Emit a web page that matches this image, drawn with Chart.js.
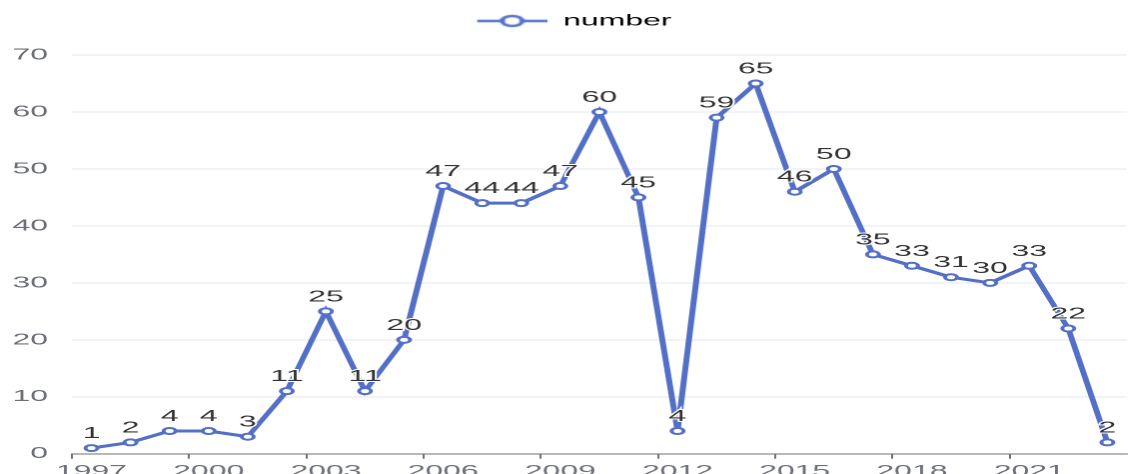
<!DOCTYPE html>
<html>
<head>
<meta charset="utf-8">
<script src="https://cdn.jsdelivr.net/npm/chart.js@4"></script>
<style>
  html, body { margin: 0; padding: 0; overflow: hidden; background: #fff; }
  /* the reference is stretched about 2x sideways, so draw narrow and scale */
  #wrap { width: 570px; height: 484px; transform: scaleX(1.998); transform-origin: 0 0; }
</style>
</head>
<body>
<div id="wrap"><canvas id="myChart"></canvas></div>
<script>
var years = ['1997','1998','1999','2000','2001','2002','2003','2004','2005','2006',
             '2007','2008','2009','2010','2011','2012','2013','2014','2015','2016',
             '2017','2018','2019','2020','2021','2022','2023'];
var numbers = [1, 2, 4, 4, 3, 11, 25, 11, 20, 47, 44, 44, 47, 60, 45, 4, 59, 65, 46, 50,
               35, 33, 31, 30, 33, 22, 2];
var tickYears = ['1997','2000','2003','2006','2009','2012','2015','2018','2021'];
var yTicks = [0, 10, 20, 30, 40, 50, 60, 70];
var seriesName = 'number';

var lineColor = '#5470c6';
var axisColor = '#6e7079';
var fontFamily = '"Liberation Sans", Arial, Helvetica, sans-serif';

// legend icon: line with an open circle in the middle (left 5px kept empty)
var legendIcon = document.createElement('canvas');
legendIcon.width = 40;
legendIcon.height = 14;
(function() {
  var c = legendIcon.getContext('2d');
  c.strokeStyle = lineColor;
  c.lineWidth = 2.5;
  c.beginPath();
  c.moveTo(5, 7);
  c.lineTo(40, 7);
  c.stroke();
  c.beginPath();
  c.arc(22.5, 7, 5, 0, Math.PI * 2);
  c.fillStyle = '#fff';
  c.fill();
  c.stroke();
})();

// extra room under the legend
var legendSpace = {
  id: 'legendSpace',
  beforeInit: function(chart) {
    var origFit = chart.legend.fit;
    chart.legend.fit = function() {
      origFit.bind(chart.legend)();
      this.height += 16;
    };
  }
};

// value above every point
var valueLabels = {
  id: 'valueLabels',
  afterDatasetsDraw: function(chart) {
    var ctx = chart.ctx;
    var meta = chart.getDatasetMeta(0);
    ctx.save();
    ctx.font = '16px ' + fontFamily;
    ctx.textAlign = 'center';
    ctx.textBaseline = 'alphabetic';
    ctx.lineWidth = 2;
    ctx.strokeStyle = '#fff';
    ctx.fillStyle = '#333';
    meta.data.forEach(function(pt, i) {
      ctx.strokeText(String(numbers[i]), pt.x, pt.y - 10);
      ctx.fillText(String(numbers[i]), pt.x, pt.y - 10);
    });
    ctx.restore();
  }
};

var ctx = document.getElementById('myChart');
var myChart = new Chart(ctx, {
  type: 'line',
  data: {
    labels: years,
    datasets: [{
      label: seriesName,
      data: numbers,
      borderColor: lineColor,
      borderWidth: 3,
      backgroundColor: '#fff',
      pointRadius: 3,
      pointBorderWidth: 2,
      pointBackgroundColor: '#fff',
      pointBorderColor: lineColor,
      tension: 0
    }]
  },
  options: {
    responsive: true,
    maintainAspectRatio: false,
    animation: false,
    devicePixelRatio: 2,
    layout: { padding: { top: 0, right: 0, bottom: 0, left: 0 } },
    plugins: {
      tooltip: { enabled: false },
      legend: {
        labels: {
          usePointStyle: true,
          pointStyleWidth: 40,
          boxHeight: 14,
          padding: 13,
          color: '#333',
          font: { family: fontFamily, size: 16 },
          generateLabels: function(chart) {
            return [{
              text: seriesName,
              pointStyle: legendIcon,
              fillStyle: '#fff',
              strokeStyle: lineColor,
              lineWidth: 0,
              hidden: false,
              datasetIndex: 0
            }];
          }
        }
      }
    },
    scales: {
      x: {
        offset: true,
        grid: {
          offset: true,
          drawOnChartArea: false,
          drawTicks: true,
          tickLength: 5,
          color: function(c) { return c.index % 3 === 0 ? axisColor : 'rgba(0,0,0,0)'; }
        },
        border: { display: true, color: axisColor, width: 1 },
        ticks: {
          autoSkip: false,
          maxRotation: 0,
          padding: 3,
          color: axisColor,
          font: { family: fontFamily, size: 16 },
          callback: function(v, i) {
            return tickYears.indexOf(years[i]) >= 0 ? years[i] : '';
          }
        }
      },
      y: {
        min: yTicks[0],
        max: yTicks[yTicks.length - 1],
        border: { display: false },
        grid: { color: '#e0e6f1', drawTicks: false },
        ticks: {
          stepSize: 10,
          padding: 12,
          color: axisColor,
          font: { family: fontFamily, size: 16 }
        },
        afterFit: function(s) { s.width = 36; }
      }
    }
  },
  plugins: [legendSpace, valueLabels]
});
</script>
</body>
</html>
